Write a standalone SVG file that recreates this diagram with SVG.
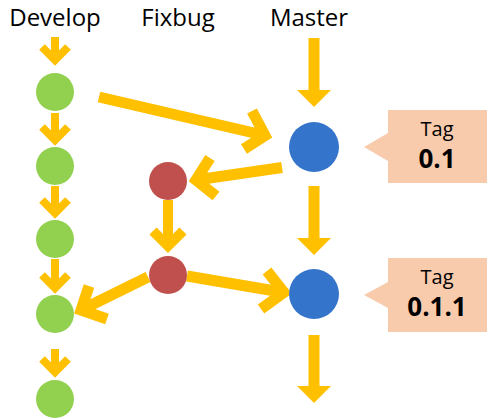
<svg xmlns="http://www.w3.org/2000/svg" width="492" height="419" viewBox="0 0 492 419">
<style>
.hdr{font-family:"Open Sans","Noto Sans",sans-serif;font-size:24px;fill:#000;text-anchor:middle}
.tagl{font-family:"Open Sans","Noto Sans",sans-serif;font-size:20px;fill:#000;text-anchor:middle}
.tagv{font-family:"Open Sans","Noto Sans",sans-serif;font-size:26px;font-weight:bold;fill:#000;text-anchor:middle}
.dev{fill:#92D050}
.fix{fill:#C0504D}
.mas{fill:#3574CB}
.tag{fill:#F8CBAD}
.thin{fill:none;stroke:#FFC000;stroke-width:8;stroke-linejoin:miter}
.mid{fill:none;stroke:#FFC000;stroke-width:10;stroke-linejoin:miter}
.thick{fill:none;stroke:#FFC000;stroke-width:11;stroke-linejoin:miter;stroke-miterlimit:10}
.solid{fill:#FFC000}
</style>
<rect width="492" height="419" fill="#fff"/>
<g id="headers">
<text class="hdr" x="55" y="26">Develop</text>
<text class="hdr" x="178" y="26">Fixbug</text>
<text class="hdr" x="309" y="26">Master</text>
</g>
<g id="connectors">
<path class="thin" d="M55,37V60M42,47L55,60L68,47"/>
<path class="thin" d="M55,113V140M42,127L55,140L68,127"/>
<path class="thin" d="M55,186V213M42,200L55,213L68,200"/>
<path class="thin" d="M55,259V288M42,275L55,288L68,275"/>
<path class="thin" d="M55,349V372M42,359L55,372L68,359"/>
<path class="mid" d="M168,200V246M153,231L168,246L183,231"/>
<path class="solid" d="M308.5,38H319.5V90H331L314,107L297,90H308.5Z"/>
<path class="solid" d="M308.5,186H319.5V238H331L314,255L297,238H308.5Z"/>
<path class="solid" d="M308.5,335H319.5V386H331L314,403L297,386H308.5Z"/>
<path class="thick" d="M99,97L265,135.5M252,111L265,135.5L244,149"/>
<path class="thick" d="M282,167.5L196,180M210,158L196,180L216,196"/>
<path class="thick" d="M148,277L81,310M89,286L81,310L107,319"/>
<path class="thick" d="M187,276L284,292.5M267,271L284,292.5L261,309"/>
</g>
<g id="develop">
<circle class="dev" cx="55" cy="92" r="19"/>
<circle class="dev" cx="55" cy="166" r="19"/>
<circle class="dev" cx="55" cy="239" r="19"/>
<circle class="dev" cx="55" cy="314" r="19"/>
<circle class="dev" cx="55" cy="399" r="19"/>
</g>
<g id="fixbug">
<circle class="fix" cx="168" cy="181" r="19"/>
<circle class="fix" cx="168" cy="275" r="19"/>
</g>
<g id="master">
<circle class="mas" cx="314" cy="147" r="25"/>
<circle class="mas" cx="314" cy="294" r="25"/>
</g>
<g id="tag1">
<path class="tag" d="M388,110H487V183H388V161L364,147L388,133Z"/>
<text class="tagl" x="437" y="136">Tag</text>
<text class="tagv" x="437" y="168">0.1</text>
</g>
<g id="tag2">
<path class="tag" d="M388,258H487V332H388V308L364,295L388,282Z"/>
<text class="tagl" x="437" y="284">Tag</text>
<text class="tagv" x="437" y="316">0.1.1</text>
</g>
</svg>
